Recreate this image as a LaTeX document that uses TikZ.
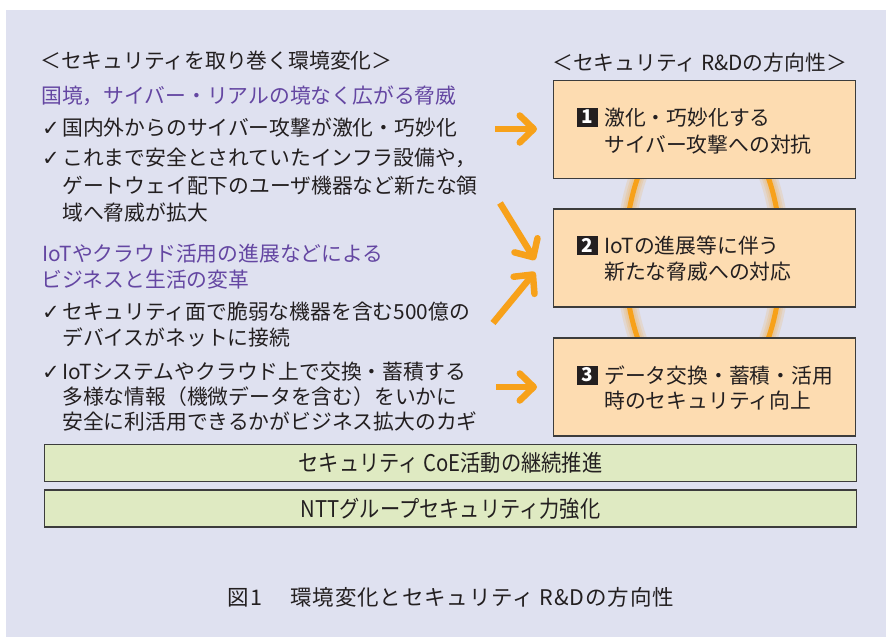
\documentclass[tikz,border=0pt]{standalone}
\usepackage{fontspec}
\setmainfont{Noto Sans CJK JP}
\newfontfamily\condfont[FakeStretch=0.88]{Noto Sans CJK JP}
\newfontfamily\capfont[LetterSpace=4]{Noto Sans CJK JP}
\newfontfamily\symfont{DejaVu Sans}
\usetikzlibrary{arrows.meta}
\definecolor{bgc}{HTML}{DFE1F0}
\definecolor{ink}{HTML}{231F20}
\definecolor{purp}{HTML}{6446A2}
\definecolor{boxc}{HTML}{FDDCB1}
\definecolor{grn}{HTML}{DFEAC2}
\definecolor{orng}{HTML}{F7A11A}
\definecolor{bord}{HTML}{3C3C3C}
\begin{document}
\begin{tikzpicture}[x=1pt,y=-1pt,
  txt/.style={anchor=base west, inner sep=0pt, font=\fontsize{20.8}{25}\selectfont, text=ink},
  ptxt/.style={txt, text=purp},
  chk/.style={anchor=base west, inner sep=0pt, font=\symfont\fontsize{21}{24}\selectfont, text=ink},
  obox/.style={draw=bord, line width=1.3pt, fill=boxc, minimum width=302pt, minimum height=98pt, inner sep=0pt},
  gbox/.style={draw=bord, line width=1.3pt, fill=grn, minimum width=812pt, minimum height=37pt, inner sep=0pt, font=\condfont\fontsize{23}{25}\selectfont, text=ink},
  numbox/.style={fill=ink, text=white, minimum width=21pt, minimum height=19pt, inner sep=0pt, font=\fontsize{19}{19}\selectfont\bfseries},
  arr/.style={draw=orng, line width=6.5pt, -{Straight Barb[length=14pt,width=27pt,round]}},
  glow/.style={draw=orng, line width=#1, opacity=0.15}
]
\useasboundingbox (0,0) rectangle (886,637);
\fill[white] (0,0) rectangle (886,637);
\fill[bgc] (6,10) rectangle (886,637);

% left column
\node[txt] (ltitle) at (40,68) {＜セキュリティを取り巻く環境変化＞};
\node[ptxt] (p1) at (41,103) {国境，サイバー・リアルの境なく広がる脅威};
\node[chk] (c1) at (42,135) {✓};
\node[txt] (l1) at (62,135) {国内外からのサイバー攻撃が激化・巧妙化};
\node[chk] (c2) at (42,165) {✓};
\node[txt] (l2a) at (62,165) {これまで安全とされていたインフラ設備や，};
\node[txt] (l2b) at (62,193) {ゲートウェイ配下のユーザ機器など新たな領};
\node[txt] (l2c) at (62,220) {域へ脅威が拡大};
\node[ptxt] (p2a) at (42,261) {IoTやクラウド活用の進展などによる};
\node[ptxt] (p2b) at (41,287) {ビジネスと生活の変革};
\node[chk] (c3) at (42,319) {✓};
\node[txt] (l3a) at (62,319) {セキュリティ面で脆弱な機器を含む500億の};
\node[txt] (l3b) at (62,345) {デバイスがネットに接続};
\node[chk] (c4) at (42,379) {✓};
\node[txt] (l4a) at (62,379) {IoTシステムやクラウド上で交換・蓄積する};
\node[txt] (l4b) at (62,404) {多様な情報（機微データを含む）をいかに};
\node[txt] (l4c) at (62,429) {安全に利活用できるかがビジネス拡大のカギ};

% right column
\node[txt] (rtitle) at (552,70) {＜セキュリティ R\&Dの方向性＞};

% glowing ellipse behind the boxes
\draw[glow=18pt] (703,258) ellipse [x radius=78pt, y radius=147pt];
\draw[glow=13pt] (703,258) ellipse [x radius=78pt, y radius=147pt];
\draw[glow=9pt] (703,258) ellipse [x radius=78pt, y radius=147pt];
\draw[orng, line width=5pt] (703,258) ellipse [x radius=78pt, y radius=147pt];

\node[obox] (b1) at (704.5,129.5) {};
\node[obox] (b2) at (704.5,258) {};
\node[obox] (b3) at (704.5,387) {};

\node[numbox] (n1) at (587,117) {1};
\node[txt] (b1a) at (604,125) {激化・巧妙化する};
\node[txt] (b1b) at (604,152) {サイバー攻撃への対抗};
\node[numbox] (n2) at (587,245) {2};
\node[txt] (b2a) at (604,253) {IoTの進展等に伴う};
\node[txt] (b2b) at (604,279) {新たな脅威への対応};
\node[numbox] (n3) at (587,375) {3};
\node[txt] (b3a) at (604,383) {データ交換・蓄積・活用};
\node[txt] (b3b) at (604,408) {時のセキュリティ向上};

% arrows
\coordinate (a1s) at (495,129); \coordinate (a1e) at (537,129);
\coordinate (a2s) at (500,203); \coordinate (a2e) at (535,260);
\coordinate (a3s) at (493,323); \coordinate (a3e) at (535,272);
\coordinate (a4s) at (496,387); \coordinate (a4e) at (537,387);
\draw[arr] (a1s) -- (a1e);
\draw[arr] (a2s) -- (a2e);
\draw[arr] (a3s) -- (a3e);
\draw[arr] (a4s) -- (a4e);

% bottom bars
\node[gbox] (g1) at (450.5,463) {セキュリティ CoE活動の継続推進};
\node[gbox] (g2) at (450.5,508.5) {NTTグループセキュリティ力強化};

% caption
\node[anchor=base, inner sep=0pt, font=\capfont\fontsize{21.5}{25}\selectfont, text=ink] (cap) at (451,605) {図1　\hspace{6pt}環境変化とセキュリティ R\&Dの方向性};
\end{tikzpicture}
\end{document}
